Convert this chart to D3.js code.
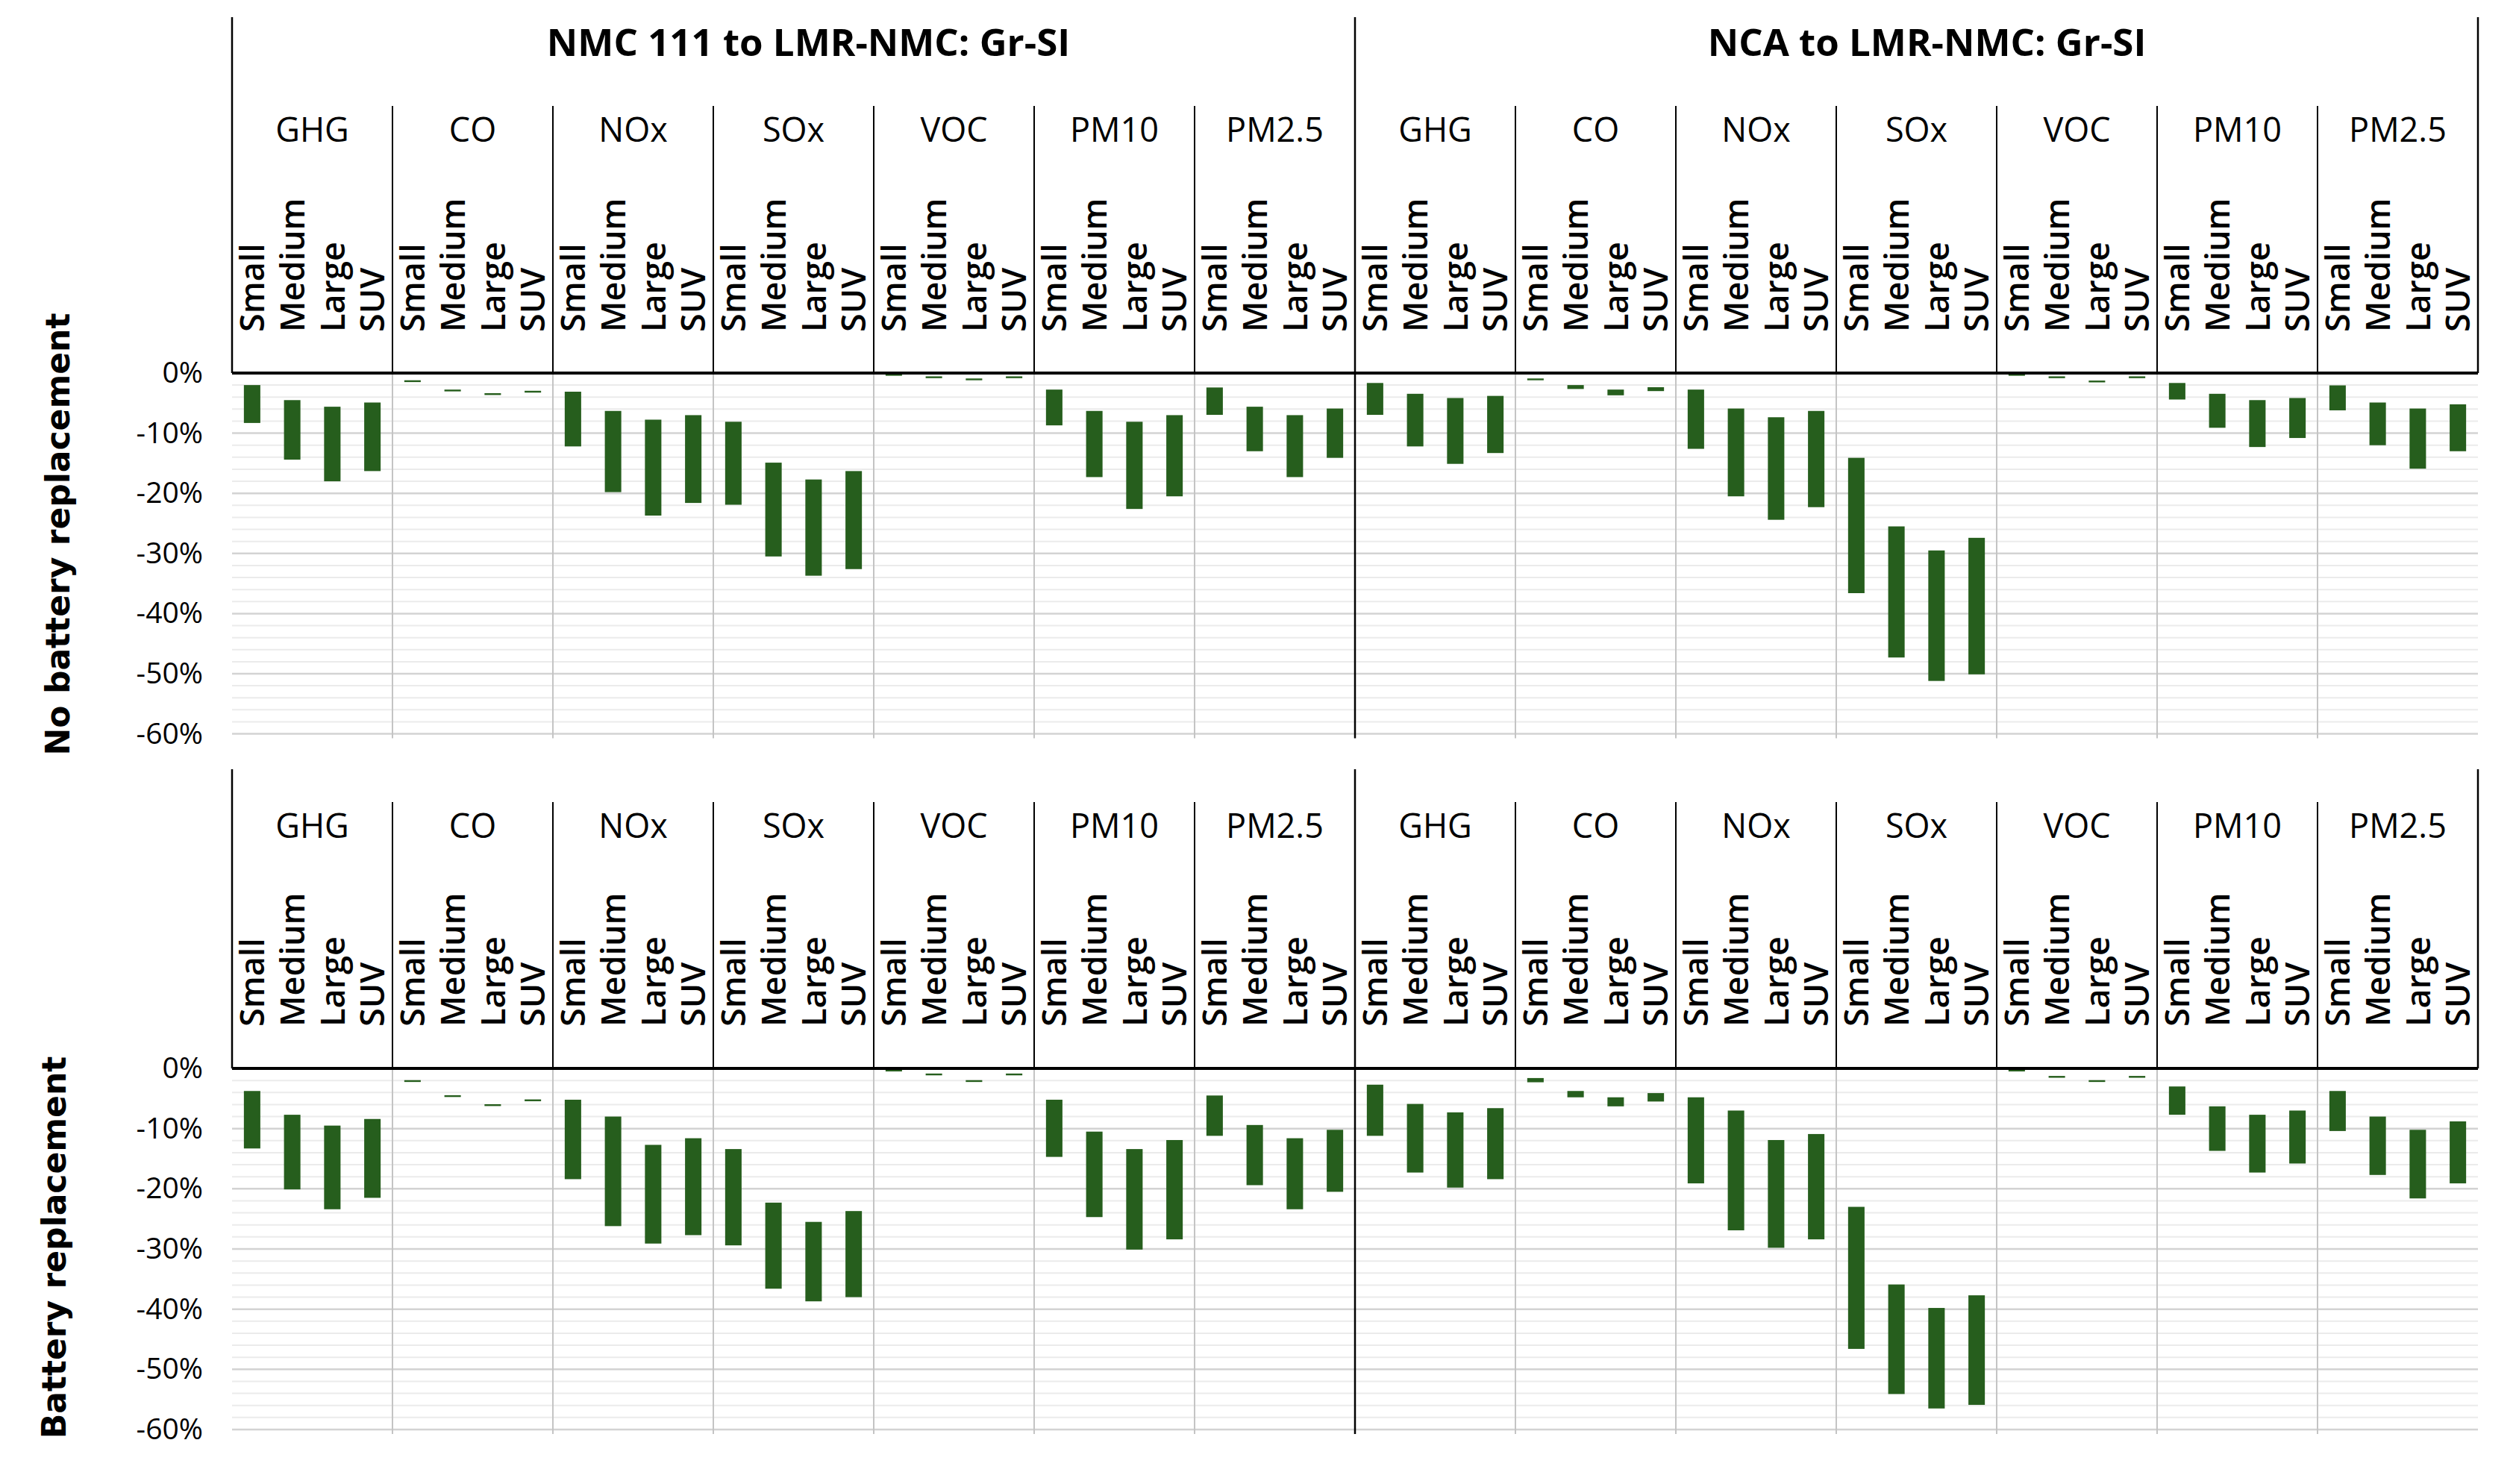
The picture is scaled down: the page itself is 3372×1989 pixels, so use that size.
<!DOCTYPE html>
<html><head><meta charset="utf-8">
<script src="https://cdn.jsdelivr.net/npm/d3@7"></script>
<style>html,body{margin:0;padding:0;background:#fff;} svg{display:block;}</style>
</head><body>
<svg id="chart" width="3372" height="1989"></svg>
<script>
// ---------- data ----------
const panels = ["No battery replacement", "Battery replacement"];
const groups = ["NMC 111 to LMR-NMC: Gr-SI", "NCA to LMR-NMC: Gr-SI"];
const emissions = ["GHG", "CO", "NOx", "SOx", "VOC", "PM10", "PM2.5"];
const vehicles = ["Small", "Medium", "Large", "SUV"];
const yTicks = [0, -10, -20, -30, -40, -50, -60];
const yTickLabels = ["0%", "-10%", "-20%", "-30%", "-40%", "-50%", "-60%"];

// [upper, lower] change in %, ordered emission by emission, vehicles Small..SUV
const noRepNMC = [
  [-2.0,-8.3],[-4.5,-14.4],[-5.6,-18.0],[-4.9,-16.3],
  [-1.2,-1.5],[-2.75,-3.05],[-3.35,-3.65],[-2.95,-3.25],
  [-3.1,-12.2],[-6.3,-19.8],[-7.75,-23.7],[-7.0,-21.6],
  [-8.1,-21.9],[-14.9,-30.5],[-17.7,-33.7],[-16.3,-32.6],
  [-0.1,-0.45],[-0.55,-0.85],[-0.9,-1.2],[-0.55,-0.85],
  [-2.75,-8.7],[-6.3,-17.3],[-8.1,-22.6],[-7.0,-20.5],
  [-2.4,-6.95],[-5.6,-13.0],[-7.0,-17.3],[-5.9,-14.1]
];
const noRepNCA = [
  [-1.65,-6.95],[-3.45,-12.2],[-4.15,-15.1],[-3.8,-13.3],
  [-0.9,-1.2],[-2.0,-2.65],[-2.75,-3.7],[-2.35,-3.0],
  [-2.75,-12.6],[-5.9,-20.5],[-7.35,-24.4],[-6.3,-22.3],
  [-14.1,-36.6],[-25.5,-47.3],[-29.5,-51.2],[-27.4,-50.1],
  [-0.05,-0.45],[-0.55,-0.85],[-1.25,-1.55],[-0.55,-0.85],
  [-1.65,-4.4],[-3.45,-9.1],[-4.5,-12.3],[-4.15,-10.8],
  [-2.05,-6.2],[-4.9,-12.0],[-5.9,-15.9],[-5.2,-13.0]
];
const repNMC = [
  [-3.75,-13.3],[-7.7,-20.1],[-9.5,-23.4],[-8.4,-21.5],
  [-1.95,-2.25],[-4.45,-4.75],[-5.95,-6.25],[-5.15,-5.45],
  [-5.2,-18.4],[-8.0,-26.2],[-12.7,-29.1],[-11.6,-27.7],
  [-13.4,-29.4],[-22.3,-36.6],[-25.5,-38.7],[-23.7,-38.0],
  [-0.15,-0.5],[-0.85,-1.15],[-1.95,-2.25],[-0.85,-1.15],
  [-5.2,-14.7],[-10.5,-24.7],[-13.4,-30.1],[-11.9,-28.4],
  [-4.5,-11.2],[-9.4,-19.4],[-11.6,-23.4],[-10.2,-20.5]
];
const repNCA = [
  [-2.7,-11.2],[-5.9,-17.3],[-7.3,-19.8],[-6.6,-18.4],
  [-1.6,-2.3],[-3.75,-4.8],[-4.8,-6.3],[-4.1,-5.5],
  [-4.8,-19.1],[-7.0,-26.9],[-11.9,-29.8],[-10.9,-28.4],
  [-23.0,-46.6],[-35.9,-54.1],[-39.8,-56.5],[-37.7,-55.9],
  [-0.15,-0.5],[-1.25,-1.55],[-1.95,-2.25],[-1.25,-1.55],
  [-3.0,-7.7],[-6.3,-13.7],[-7.7,-17.3],[-7.0,-15.8],
  [-3.75,-10.4],[-8.0,-17.7],[-10.2,-21.6],[-8.8,-19.1]
];
const panelData = [[noRepNMC, noRepNCA], [repNMC, repNCA]];

// ---------- layout ----------
const svg = d3.select("#chart");
const X0 = 311, X1 = 3321;
const barColor = "#265e1d";
const fontMain = "'Open Sans', 'Noto Sans', sans-serif";

const catKeys = [];
groups.forEach((g, gi) => emissions.forEach((e, ei) => catKeys.push(gi + "|" + e)));
const xCat = d3.scaleBand().domain(catKeys).range([X0, X1]);
const xVeh = d3.scaleBand().domain(vehicles).range([0, xCat.bandwidth()]).paddingInner(0.59).paddingOuter(0.295);
const xGroup = d3.scaleBand().domain(groups).range([X0, X1]);

const layout = [
  { top: 23, emTop: 142, zero: 500, y60: 983.6, emBase: 190, vehEnd: 445, titleY: 716, titleX: 93, groupHeader: true },
  { top: 1031, emTop: 1075, zero: 1432, y60: 1916, emBase: 1123, vehEnd: 1376, titleY: 1672, titleX: 88, groupHeader: false }
];

layout.forEach((L, pi) => {
  const y = d3.scaleLinear().domain([0, -60]).range([L.zero, L.y60]);
  const g = svg.append("g");

  // minor gridlines
  const minor = d3.range(-2, -60, -2).filter(v => v % 10 !== 0);
  g.append("g").selectAll("line").data(minor).join("line")
    .attr("x1", X0).attr("x2", X1)
    .attr("y1", d => y(d)).attr("y2", d => y(d))
    .attr("stroke", "#ebebeb").attr("stroke-width", 2);
  // major gridlines
  g.append("g").selectAll("line").data(yTicks.slice(1)).join("line")
    .attr("x1", X0).attr("x2", X1)
    .attr("y1", d => y(d)).attr("y2", d => y(d))
    .attr("stroke", "#d3d3d3").attr("stroke-width", 2.5);
  // vertical category gridlines below the axis
  const innerCats = catKeys.slice(1).filter(k => k !== "1|GHG");
  g.append("g").selectAll("line").data(innerCats).join("line")
    .attr("x1", d => xCat(d)).attr("x2", d => xCat(d))
    .attr("y1", L.zero).attr("y2", L.y60 + 6)
    .attr("stroke", "#c4c4c4").attr("stroke-width", 2);

  // y axis tick labels
  const yAxis = d3.axisLeft(y).tickValues(yTicks).tickSize(0).tickPadding(0)
    .tickFormat((d, i) => yTickLabels[i]);
  const ax = g.append("g").attr("transform", `translate(272,0)`).call(yAxis);
  ax.select(".domain").remove();
  ax.selectAll("text").attr("font-family", fontMain).attr("font-size", 39)
    .attr("fill", "#000").attr("text-anchor", "end");

  // bars
  panelData[pi].forEach((series, gi) => {
    const rows = [];
    emissions.forEach((e, ei) => vehicles.forEach((v, vi) => {
      rows.push({ cat: gi + "|" + e, veh: v, hi: series[ei * 4 + vi][0], lo: series[ei * 4 + vi][1] });
    }));
    g.append("g").selectAll("rect").data(rows).join("rect")
      .attr("x", d => xCat(d.cat) + xVeh(d.veh))
      .attr("width", xVeh.bandwidth())
      .attr("y", d => y(d.hi))
      .attr("height", d => Math.max(2, y(d.lo) - y(d.hi)))
      .attr("fill", barColor);
  });

  // header lines
  const hdr = g.append("g").attr("stroke", "#000");
  catKeys.forEach(k => {
    const isEdge = (k === "0|GHG" || k === "1|GHG");
    hdr.append("line").attr("x1", xCat(k)).attr("x2", xCat(k))
      .attr("y1", isEdge ? L.top : L.emTop).attr("y2", L.zero)
      .attr("stroke-width", isEdge ? 2.5 : 2);
  });
  hdr.append("line").attr("x1", X1).attr("x2", X1).attr("y1", L.top).attr("y2", L.zero).attr("stroke-width", 2.5);
  // group divider running through the plot
  hdr.append("line").attr("x1", xGroup(groups[1])).attr("x2", xGroup(groups[1]))
    .attr("y1", L.zero).attr("y2", L.y60 + 6).attr("stroke-width", 2.5);
  // zero line (bottom of header)
  hdr.append("line").attr("x1", X0).attr("x2", X1).attr("y1", y(0)).attr("y2", y(0)).attr("stroke-width", 4);

  // group headers
  if (L.groupHeader) {
    const gOff = [20, 14];
    g.append("g").selectAll("text").data(groups).join("text")
      .attr("x", (d, i) => xGroup(d) + xGroup.bandwidth() / 2 + gOff[i])
      .attr("y", 75)
      .attr("text-anchor", "middle")
      .attr("font-family", fontMain).attr("font-weight", 700).attr("font-size", 51)
      .text(d => d);
  }
  // emission labels
  g.append("g").selectAll("text").data(catKeys).join("text")
    .attr("x", d => xCat(d) + xCat.bandwidth() / 2)
    .attr("y", L.emBase)
    .attr("text-anchor", "middle")
    .attr("font-family", fontMain).attr("font-size", 45)
    .text(d => d.split("|")[1]);
  // vehicle labels
  const vl = [];
  catKeys.forEach(k => vehicles.forEach(v => vl.push({ k, v })));
  g.append("g").selectAll("text").data(vl).join("text")
    .attr("transform", d => `translate(${xCat(d.k) + xVeh(d.v) + xVeh.bandwidth() / 2},${L.vehEnd}) rotate(-90)`)
    .attr("dy", "0.36em")
    .attr("text-anchor", "start")
    .attr("font-family", fontMain).attr("font-weight", 600).attr("font-size", 45)
    .text(d => d.v);

  // panel title
  svg.append("text")
    .attr("transform", `translate(${L.titleX},${L.titleY}) rotate(-90)`)
    .attr("text-anchor", "middle")
    .attr("font-family", "'DejaVu Sans', sans-serif").attr("font-weight", 700).attr("font-size", 44)
    .text(panels[pi]);
});
</script>
</body></html>
